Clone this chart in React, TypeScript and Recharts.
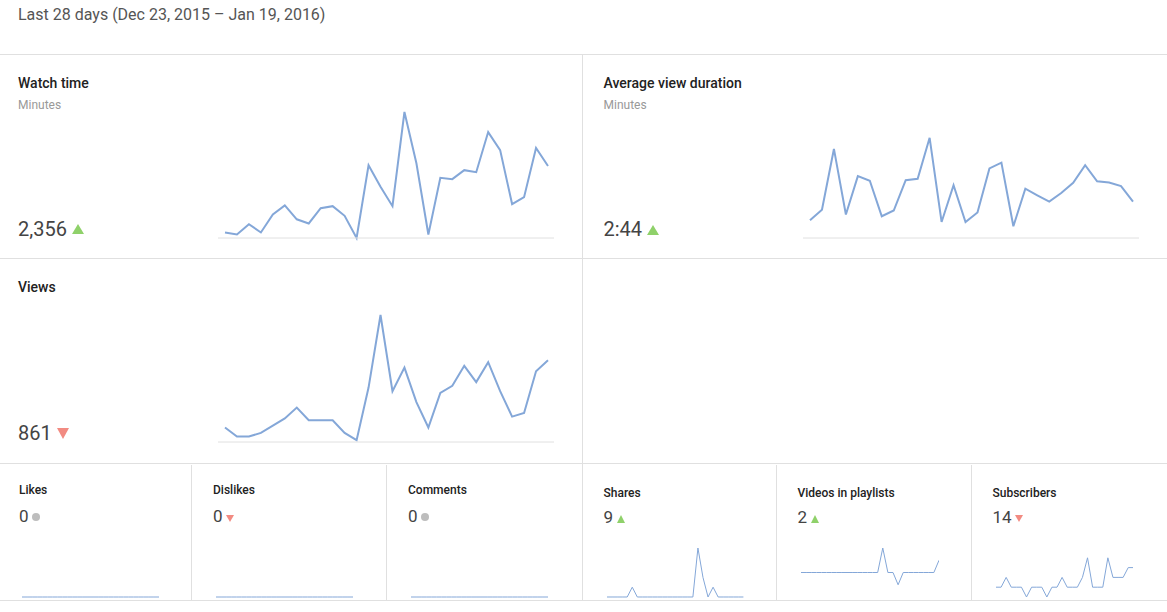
import { FC, ReactNode } from 'react'
import { LineChart, Line, XAxis, YAxis } from 'recharts'

const days = [
    'Dec 23', 'Dec 24', 'Dec 25', 'Dec 26', 'Dec 27', 'Dec 28', 'Dec 29', 'Dec 30', 'Dec 31',
    'Jan 1', 'Jan 2', 'Jan 3', 'Jan 4', 'Jan 5', 'Jan 6', 'Jan 7', 'Jan 8', 'Jan 9', 'Jan 10',
    'Jan 11', 'Jan 12', 'Jan 13', 'Jan 14', 'Jan 15', 'Jan 16', 'Jan 17', 'Jan 18', 'Jan 19',
]

// minutes per day
const watchTime = [28, 25, 40, 28, 54, 67, 47, 41, 63, 66, 52, 20, 125, 94, 66, 202, 128, 25, 107, 105, 118, 115, 173, 147, 69, 79, 150, 124]
// seconds
const avgViewDuration = [62, 99, 311, 82, 216, 200, 76, 96, 202, 207, 350, 56, 184, 56, 89, 243, 263, 41, 172, 149, 127, 157, 193, 254, 198, 194, 181, 127]
const views = [17, 12, 12, 14, 18, 22, 28, 21, 21, 21, 14, 10, 39, 79, 37, 50, 31, 17, 36, 40, 51, 42, 53, 37, 23, 25, 48, 54]

const likes = [0, 0, 0, 0, 0, 0, 0, 0, 0, 0, 0, 0, 0, 0, 0, 0, 0, 0, 0, 0, 0, 0, 0, 0, 0, 0, 0, 0]
const dislikes = [0, 0, 0, 0, 0, 0, 0, 0, 0, 0, 0, 0, 0, 0, 0, 0, 0, 0, 0, 0, 0, 0, 0, 0, 0, 0, 0, 0]
const comments = [0, 0, 0, 0, 0, 0, 0, 0, 0, 0, 0, 0, 0, 0, 0, 0, 0, 0, 0, 0, 0, 0, 0, 0, 0, 0, 0, 0]
const shares = [0, 0, 0, 0, 0, 1, 0, 0, 0, 0, 0, 0, 0, 0, 0, 0, 0, 0, 5, 2, 0, 1, 0, 0, 0, 0, 0, 0]
const playlists = [0, 0, 0, 0, 0, 0, 0, 0, 0, 0, 0, 0, 0, 0, 0, 0, 2, 0, 0, -1, 0, 0, 0, 0, 0, 0, 0, 1]
const subscribers = [0, 0, 1, 0, 0, 0, -1, 0, 0, 0, -1, 0, 0, 1, 0, 0, 0, 1, 3, 0, 0, 0, 3, 1, 1, 1, 2, 2]

const LINE = '#84a7d8'
const RULE = '#e0e0e0'
const UP = '#8fd16a'
const DOWN = '#f28b82'

type SparkProps = {
    data: number[];
    left: number;
    width: number;
    plotTop: number;
    plotHeight: number;
    padL: number;
    padR: number;
    domain: [number | string, number | string];
    strokeWidth: number;
    axis?: boolean;
}

const MT = 4
const MB = 4

const Spark: FC<SparkProps> = ({ data, left, width, plotTop, plotHeight, padL, padR, domain, strokeWidth, axis }) => {
    const rows = days.map((day, i) => ({ day, v: data[i] }))
    return (
        <div style={{ position: 'absolute', left, top: plotTop - MT }}>
            <LineChart width={width} height={MT + plotHeight + 1 + MB} data={rows} margin={{ top: MT, right: 0, bottom: MB, left: 0 }}>
                <XAxis
                    dataKey="day"
                    height={1}
                    tick={false}
                    tickLine={false}
                    axisLine={axis ? { stroke: RULE } : false}
                    padding={{ left: padL, right: padR }}
                />
                <YAxis hide domain={domain} />
                <Line type="linear" dataKey="v" stroke={LINE} strokeWidth={strokeWidth} dot={false} isAnimationActive={false} />
            </LineChart>
        </div>
    )
}

// text placed by its baseline (Roboto, line-height 1)
const Label: FC<{ x: number; base: number; size: number; weight?: number; color: string; children: ReactNode }> = ({ x, base, size, weight = 400, color, children }) => (
    <div style={{
        position: 'absolute', left: x, top: base - 0.8415 * size, fontSize: size, lineHeight: `${size}px`,
        fontWeight: weight, color, whiteSpace: 'nowrap',
    }}>{children}</div>
)

const Tri: FC<{ x: number; y: number; w: number; h: number; up: boolean }> = ({ x, y, w, h, up }) => (
    <svg style={{ position: 'absolute', left: x, top: y }} width={w} height={h}>
        <polygon points={up ? `0,${h} ${w / 2},0 ${w},${h}` : `0,0 ${w},0 ${w / 2},${h}`} fill={up ? UP : DOWN} />
    </svg>
)

const Dot: FC<{ x: number; y: number }> = ({ x, y }) => (
    <div style={{ position: 'absolute', left: x - 4, top: y - 4, width: 8, height: 8, borderRadius: 4, background: '#bdbdbd' }} />
)

const HRule: FC<{ y: number; x1?: number; x2?: number }> = ({ y, x1 = 0, x2 = 1167 }) => (
    <div style={{ position: 'absolute', left: x1, top: y, width: x2 - x1, height: 1, background: RULE }} />
)
const VRule: FC<{ x: number; y1: number; y2: number }> = ({ x, y1, y2 }) => (
    <div style={{ position: 'absolute', left: x, top: y1, width: 1, height: y2 - y1, background: RULE }} />
)

const SMALL_TOP = 548
const SMALL_H = 49

const App: FC = () => {
    return (
        <div style={{
            position: 'absolute', left: 0, top: 0, width: 1167, height: 612, background: '#fff',
            fontFamily: 'Roboto, "Noto Sans", sans-serif', overflow: 'hidden',
        }}>
            <Label x={18} base={20} size={16} color="#555">Last 28 days (Dec 23, 2015 – Jan 19, 2016)</Label>

            <HRule y={54} />
            <HRule y={258} />
            <HRule y={463} />
            <HRule y={600} />
            <VRule x={582} y1={54} y2={601} />
            <VRule x={191} y1={465} y2={601} />
            <VRule x={386} y1={465} y2={601} />
            <VRule x={776} y1={465} y2={601} />
            <VRule x={971} y1={465} y2={601} />

            {/* Watch time */}
            <Label x={18} base={88} size={14} weight={500} color="#222">Watch time</Label>
            <Label x={18} base={109.5} size={12} color="#999">Minutes</Label>
            <Label x={18} base={235.5} size={20} color="#444">2,356</Label>
            <Tri x={72} y={224} w={12} h={10} up />
            <Spark data={watchTime} left={218} width={336} plotTop={112} plotHeight={126} padL={7} padR={6} domain={['dataMin', 'dataMax']} strokeWidth={2} axis />

            {/* Average view duration */}
            <Label x={603.5} base={88} size={14} weight={500} color="#222">Average view duration</Label>
            <Label x={603.5} base={109.5} size={12} color="#999">Minutes</Label>
            <Label x={603.5} base={235.5} size={20} color="#444">2:44</Label>
            <Tri x={647} y={225} w={12} h={10} up />
            <Spark data={avgViewDuration} left={803} width={336} plotTop={112} plotHeight={126} padL={7} padR={6} domain={[0, 440]} strokeWidth={2} axis />

            {/* Views */}
            <Label x={18} base={292} size={14} weight={500} color="#222">Views</Label>
            <Label x={18} base={439.5} size={20} color="#444">861</Label>
            <Tri x={57} y={428} w={12} h={11} up={false} />
            <Spark data={views} left={218} width={336} plotTop={315} plotHeight={127} padL={7} padR={6} domain={[9, 'dataMax']} strokeWidth={2} axis />

            {/* Likes */}
            <Label x={19} base={494} size={12} weight={500} color="#222">Likes</Label>
            <Label x={19} base={522} size={17} color="#444">0</Label>
            <Dot x={35.5} y={517} />
            <Spark data={likes} left={22} width={137} plotTop={SMALL_TOP} plotHeight={SMALL_H} padL={0} padR={0} domain={[0, 1]} strokeWidth={1} />

            {/* Dislikes */}
            <Label x={213} base={494} size={12} weight={500} color="#222">Dislikes</Label>
            <Label x={213} base={522} size={17} color="#444">0</Label>
            <Tri x={226} y={515} w={8} h={7} up={false} />
            <Spark data={dislikes} left={216} width={137} plotTop={SMALL_TOP} plotHeight={SMALL_H} padL={0} padR={0} domain={[0, 1]} strokeWidth={1} />

            {/* Comments */}
            <Label x={408} base={494} size={12} weight={500} color="#222">Comments</Label>
            <Label x={408} base={522} size={17} color="#444">0</Label>
            <Dot x={424.5} y={517} />
            <Spark data={comments} left={410.5} width={137} plotTop={SMALL_TOP} plotHeight={SMALL_H} padL={0} padR={0} domain={[0, 1]} strokeWidth={1} />

            {/* Shares */}
            <Label x={603.5} base={496.7} size={12} weight={500} color="#222">Shares</Label>
            <Label x={603.5} base={523.3} size={17} color="#444">9</Label>
            <Tri x={617} y={515} w={8} h={8} up />
            <Spark data={shares} left={607.3} width={136.4} plotTop={SMALL_TOP} plotHeight={SMALL_H} padL={0} padR={0} domain={[0, 5]} strokeWidth={1} />

            {/* Videos in playlists */}
            <Label x={797.5} base={496.7} size={12} weight={500} color="#222">Videos in playlists</Label>
            <Label x={797.5} base={523.3} size={17} color="#444">2</Label>
            <Tri x={811} y={515} w={8} h={8} up />
            <Spark data={playlists} left={801} width={138} plotTop={SMALL_TOP} plotHeight={SMALL_H} padL={0} padR={0} domain={[-2, 2]} strokeWidth={1} />

            {/* Subscribers */}
            <Label x={992.5} base={496.7} size={12} weight={500} color="#222">Subscribers</Label>
            <Label x={992.5} base={523.3} size={17} color="#444">14</Label>
            <Tri x={1015} y={515} w={8} h={7} up={false} />
            <Spark data={subscribers} left={996} width={137.3} plotTop={SMALL_TOP} plotHeight={SMALL_H} padL={0} padR={0} domain={[-1, 4]} strokeWidth={1} />
        </div>
    )
}

export default App
